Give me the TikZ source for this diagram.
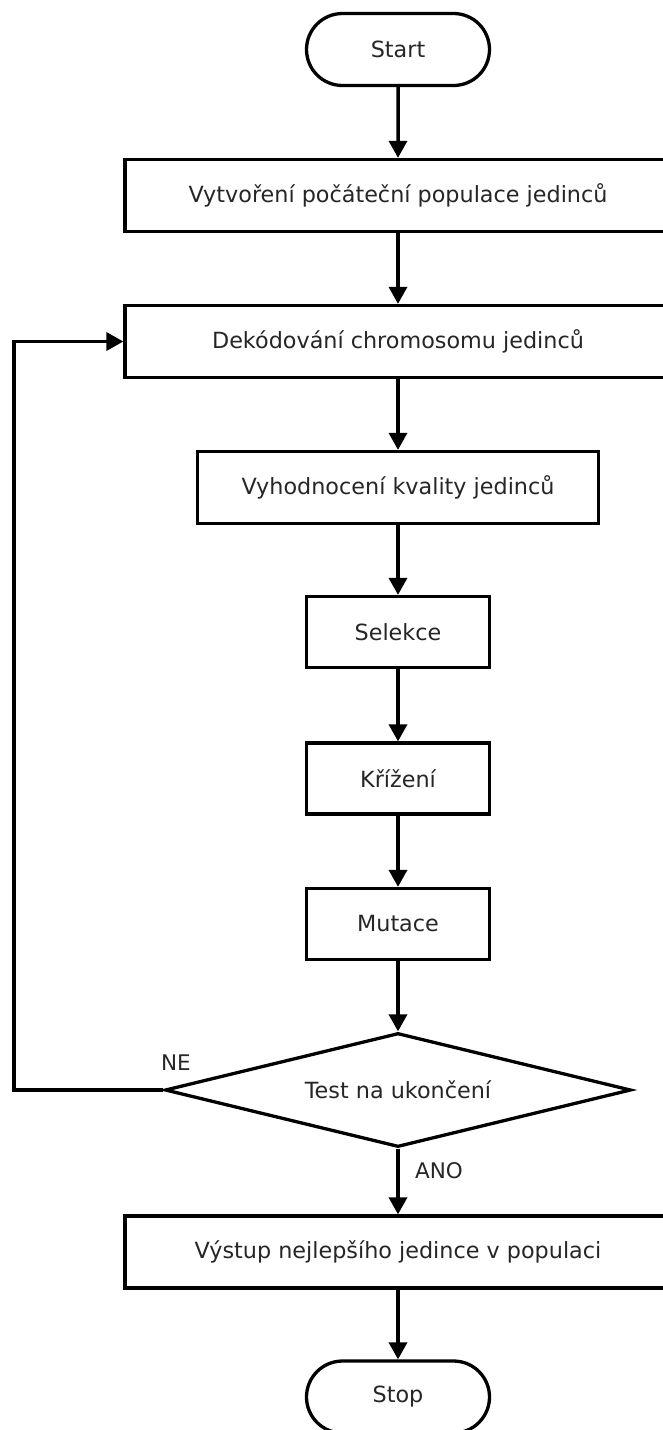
\documentclass[tikz,border=0pt]{standalone}
\usepackage{fontspec}
\setmainfont{DejaVu Sans}
\usetikzlibrary{shapes.misc,shapes.geometric,arrows.meta}

\tikzset{
  base/.style={draw=black, line width=3.3pt, fill=white, inner sep=0pt,
    font=\fontsize{22.3}{27}\selectfont, text=black!85},
  terminal/.style={base, rounded rectangle, minimum width=183pt, minimum height=72pt},
  widebox/.style={base, rectangle, minimum width=546pt, minimum height=72pt},
  midbox/.style={base, rectangle, minimum width=401pt, minimum height=72pt},
  smallbox/.style={base, rectangle, minimum width=183pt, minimum height=71pt},
  decision/.style={base, diamond, aspect=4.1, minimum width=466pt, minimum height=114pt},
  flow/.style={draw=black, line width=3.5pt, line join=miter,
    -{Triangle[length=17pt,width=18pt]}},
  lbl/.style={inner sep=0pt, font=\fontsize{21.5}{26}\selectfont, text=black!85}
}

\begin{document}
\begin{tikzpicture}[x=1pt,y=-1pt]
  \useasboundingbox (0,0) rectangle (662,1430);

  \node[terminal] (start) at (398,49.5) {Start};
  \node[widebox]  (init)  at (398,195.5) {Vytvoření počáteční populace jedinců};
  \node[widebox]  (dec)   at (398,341.5) {Dekódování chromosomu jedinců};
  \node[midbox]   (eval)  at (398,487.5) {Vyhodnocení kvality jedinců};
  \node[smallbox] (sel)   at (398,632) {Selekce};
  \node[smallbox] (cross) at (398,778.5) {Křížení};
  \node[smallbox] (mut)   at (398,924) {Mutace};
  \node[decision] (test)  at (398,1090) {Test na ukončení};
  \node[widebox]  (best)  at (398,1252) {Výstup nejlepšího jedince v populaci};
  \node[terminal] (stop)  at (398,1397) {Stop};

  \draw[flow] (start) -- (init);
  \draw[flow] (init) -- (dec);
  \draw[flow] (dec) -- (eval);
  \draw[flow] (eval) -- (sel);
  \draw[flow] (sel) -- (cross);
  \draw[flow] (cross) -- (mut);
  \draw[flow] (mut) -- (test);
  \draw[flow] (test) -- (best);
  \draw[flow] (best) -- (stop);

  % loop back for a further generation
  \coordinate (loop) at (14,1090);
  \draw[flow] (test.west) -- (loop) |- (dec.west);

  \node[lbl] (ne)  at (176,1063) {NE};
  \node[lbl] (ano) at (439,1171) {ANO};
\end{tikzpicture}
\end{document}
